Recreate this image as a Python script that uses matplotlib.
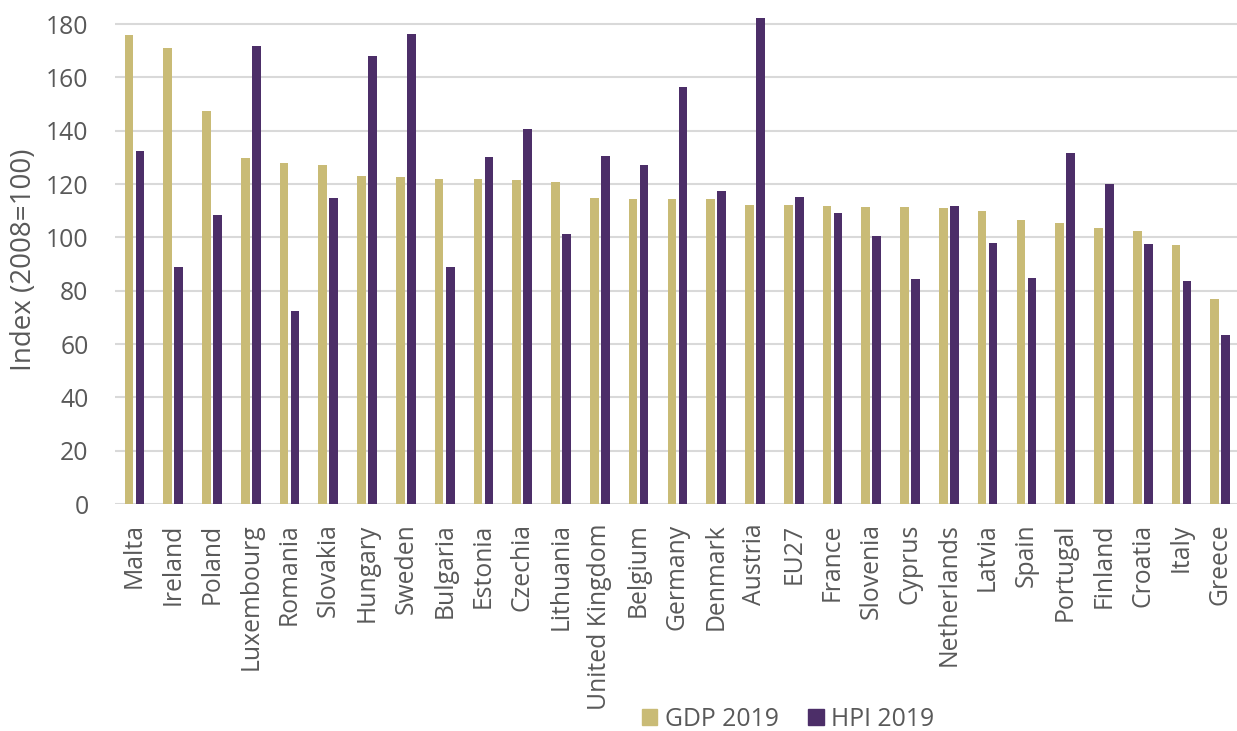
import matplotlib
matplotlib.use("Agg")
import matplotlib.pyplot as plt
from matplotlib.patches import Patch
import numpy as np

countries = ["Malta", "Ireland", "Poland", "Luxembourg", "Romania", "Slovakia",
             "Hungary", "Sweden", "Bulgaria", "Estonia", "Czechia", "Lithuania",
             "United Kingdom", "Belgium", "Germany", "Denmark", "Austria", "EU27",
             "France", "Slovenia", "Cyprus", "Netherlands", "Latvia", "Spain",
             "Portugal", "Finland", "Croatia", "Italy", "Greece"]

gdp_2019 = [175.9, 170.9, 147.4, 129.9, 128.0, 127.0, 123.1, 122.6, 122.0, 122.0,
            121.6, 120.6, 114.9, 114.5, 114.5, 114.3, 112.0, 112.0, 111.8, 111.4,
            111.4, 111.0, 109.8, 106.5, 105.3, 103.4, 102.3, 97.1, 76.8]

hpi_2019 = [132.5, 88.8, 108.5, 171.9, 72.3, 114.6, 168.0, 176.4, 88.8, 130.0,
            140.8, 101.4, 130.4, 127.3, 156.4, 117.3, 182.2, 115.3, 109.1, 100.5,
            84.3, 111.8, 97.8, 84.9, 131.8, 120.1, 97.5, 83.6, 63.3]

y_ticks = [0, 20, 40, 60, 80, 100, 120, 140, 160, 180]

GDP_COLOR = "#C9BB76"
HPI_COLOR = "#4C2E68"
TEXT_COLOR = "#595959"
GRID_COLOR = "#D9D9D9"

plt.rcParams["font.family"] = ["Open Sans", "DejaVu Sans"]

W, H = 1237, 731
fig = plt.figure(figsize=(W / 100, H / 100), dpi=100)
ax = fig.add_axes([115 / W, (H - 504) / H, 1122 / W, (504 - 14.7) / H])

x = np.arange(len(countries))
bw = 0.224
off = 0.142
ax.bar(x - off, gdp_2019, width=bw, color=GDP_COLOR, zorder=3)
ax.bar(x + off, hpi_2019, width=bw, color=HPI_COLOR, zorder=3)

ax.set_xlim(-0.5, 28.43)
ax.set_ylim(0, 183.5)
ax.set_yticks(y_ticks)
ax.set_xticks(x)
ax.set_xticklabels(countries, rotation=90, ha="center", va="top")

ax.tick_params(axis="both", length=0, labelsize=17.8, colors=TEXT_COLOR)
ax.tick_params(axis="y", pad=19)
ax.tick_params(axis="x", pad=14)

for s in ax.spines.values():
    s.set_visible(False)
ax.grid(axis="y", color=GRID_COLOR, linewidth=1.5, zorder=0)
ax.set_axisbelow(True)

fig.text(24 / W, 1 - 260 / H, "Index (2008=100)", rotation=90, ha="center",
         va="center", fontsize=20, color=TEXT_COLOR)

handles = [Patch(color=GDP_COLOR, label="GDP 2019"),
           Patch(color=HPI_COLOR, label="HPI 2019")]
fig.legend(handles=handles, loc="center", bbox_to_anchor=(788 / W, 1 - 719 / H),
           ncol=2, frameon=False, fontsize=17.8, labelcolor=TEXT_COLOR,
           handlelength=0.62, handleheight=0.62, handletextpad=0.3,
           columnspacing=1.2, borderpad=0, borderaxespad=0)

fig.savefig("out.png", dpi=100)
